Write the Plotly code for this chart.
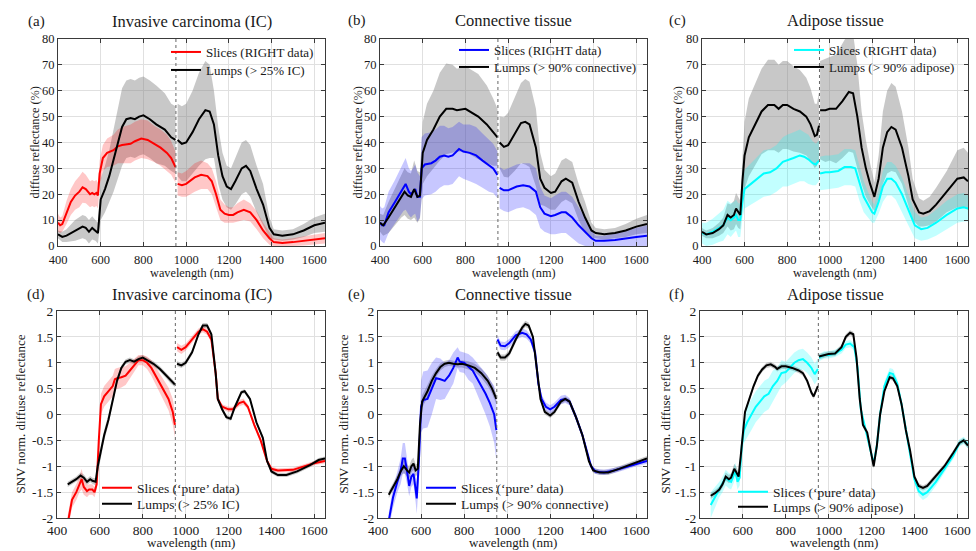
import plotly.graph_objects as go

# ---------------- tick labels ----------------
X_TICKS = [400, 600, 800, 1000, 1200, 1400, 1600]
Y_TOP_TICKS = [0, 10, 20, 30, 40, 50, 60, 70, 80]
Y_BOT_TICKS = [-2, -1.5, -1, -0.5, 0, 0.5, 1, 1.5, 2]
Y_BOT_TEXT = ["-2", "-1.5", "-1", "-0.5", "0", "0.5", "1", "1.5", "2"]

TITLES = ["Invasive carcinoma (IC)", "Connective tissue", "Adipose tissue",
          "Invasive carcinoma (IC)", "Connective tissue", "Adipose tissue"]
LABELS = ["(a)", "(b)", "(c)", "(d)", "(e)", "(f)"]
SLICE_NAMES = ["Slices (RIGHT data)"] * 3 + ["Slices (\u2018pure\u2019 data)"] * 3
LUMP_NAMES = ["Lumps (> 25% IC)", "Lumps (> 90% connective)", "Lumps (> 90% adipose)",
              "Lumps (> 25% IC)", "Lumps (> 90% connective)", "Lumps (> 90% adipose)"]

# ---------------- (a) IC, reflectance ----------------
A_SL_VIS_X = [400,410,420,440,460,480,500,515,530,550,560,570,580,587,595,610,630,660,680,700,740,760,790,820,850,880,910,930,950]
A_SL_VIS_Y = [9,8,8.5,13,17,19.5,21,22.7,22,20,20.5,20,20.5,19.5,28,34,36,37,38.5,39,39.5,40.5,41.5,41,39.5,38,36,34,30.5]
A_SL_VIS_SD = [3.5,3,3,4.5,5,5.5,6,6,5.5,5,5,5,5,5,5,5,5.5,6,6.5,7,7.5,7.5,7.5,7.5,7,7,7,6.5,6]
A_SL_NIR_X = [960,980,1000,1040,1070,1100,1120,1140,1160,1180,1200,1220,1240,1270,1300,1330,1360,1390,1410,1450,1500,1550,1600,1650]
A_SL_NIR_Y = [24,23.5,24,26.5,27.5,27,25,20,14,12.5,12,12,13,14,13,10,6,3,1.5,1.2,1.5,2,2.5,3]
A_SL_NIR_SD = [4.5,4.5,5,5.5,5.5,5,5,5,4,3.5,3,3,3.5,4,3.5,3.5,3,2.5,1.5,1.3,1.5,1.8,2,2]
A_LU_VIS_X = [400,420,440,480,515,530,545,560,575,587,600,620,640,660,680,700,720,740,760,780,800,830,860,900,930,950]
A_LU_VIS_Y = [4.5,3.5,4,6,7.5,7,5.5,7,6,5,18,22,27,33,40,46,49,49.5,49,50,50.5,49,47,45,42,41]
A_LU_VIS_SD = [1.5,2,2.5,4,4.5,4.5,4.5,4.5,4,4,8,9,10,12,14,15,15,15,15,15,15,15,15,14,13,13]
A_LU_NIR_X = [960,980,1000,1030,1060,1090,1110,1130,1150,1170,1190,1210,1230,1260,1280,1300,1330,1360,1390,1410,1450,1500,1550,1600,1650]
A_LU_NIR_Y = [41,39.5,40,44,49,52.5,52,47,35,27,23,22,25,30,31,29,22,16,7,4.5,4,4.5,6,8,9]
A_LU_NIR_SD = [14,14.5,15,16,18,19,18,13,11,9,8,8,9,10,10,10,9,8,4,2,2,2,2.5,3,3.5]

# ---------------- (b) connective, reflectance ----------------
B_SL_VIS_X = [400,410,420,440,470,490,510,520,535,545,555,565,575,587,595,610,640,660,680,700,720,740,770,790,820,850,880,910,930,950]
B_SL_VIS_Y = [9,8,8,13,17,20,23,24,21,20,21,22,19,19,30,31.5,32,33,34.5,35,34.5,35,37.5,36.5,36,35,33,31,30,27.5]
B_SL_VIS_SD = [6.5,6.5,7,8,8.5,9,9.5,10,9,9,9,9.5,9.5,8,12,12,12,12,12,11.5,11,11,10.5,10.5,11,11,10.5,10,9.5,9]
B_SL_NIR_X = [960,980,1000,1040,1070,1100,1130,1150,1170,1200,1220,1250,1270,1300,1330,1360,1390,1410,1450,1500,1550,1600,1650]
B_SL_NIR_Y = [22.5,21.5,21.5,23,23.5,23,21,15,12.5,11.5,12,13,13,11,8,5.5,3,2,2,2.3,3,3.5,4]
B_SL_NIR_SD = [8,8,8.5,8.5,8.5,9,9,8,7,7,7.5,8,8,8,7,5.5,3,2,2,2.5,3,3.5,4]
B_LU_VIS_X = [400,415,440,470,500,515,530,545,560,575,587,600,620,650,680,710,740,760,800,830,860,900,930,950]
B_LU_VIS_Y = [9,8,11,15,19,21,19.5,19,22,19,19.5,36,41,45,50,53,53,52.5,53,51.5,50,47,44,42]
B_LU_VIS_SD = [3.5,4,6,7,8,9,9,9,11,10,9,12,14,15,17,17.5,17,16,16.5,16.5,16.5,15,13,11]
B_LU_NIR_X = [960,980,1000,1030,1060,1080,1100,1130,1150,1170,1200,1220,1250,1270,1300,1330,1360,1390,1410,1450,1500,1550,1600,1650]
B_LU_NIR_Y = [40,38.3,39,43,47.5,48,47,38,26,22.5,20.5,21,25,26,24.5,17,11,6,5,4.5,5,6,7.5,8.5]
B_LU_NIR_SD = [10,11.5,12.5,14,15.5,16.5,16.5,15,10,7,6.5,7,8,8,8,7,6,3,2,2,2,2.5,3,3.5]

# ---------------- (c) adipose, reflectance ----------------
C_SL_VIS_X = [400,420,450,480,500,520,535,550,560,570,580,590,600,630,660,690,720,750,780,800,830,860,880,900,920,935,950]
C_SL_VIS_Y = [5,4.5,5.5,7,8,11,10,11,12,10,10,17,22,24,26,28,28.5,30,32.5,33,34,35,34.5,33.5,32,31.5,33]
C_SL_VIS_SD = [4,4.5,5,5.5,6,6.5,6.5,6,6,6.5,6.5,6.5,7.5,8,8.5,9,9,9,9.5,10,10,10,9.5,9.5,8.5,8,8]
C_SL_NIR_X = [955,980,1000,1040,1070,1100,1120,1140,1160,1180,1200,1210,1230,1250,1270,1290,1310,1340,1370,1400,1430,1460,1500,1550,1600,1630,1650]
C_SL_NIR_Y = [28,28.5,28.5,29,30.5,30.5,30,24,19,16,13,12.5,17,23,26,26,24.5,20,14,8,6.5,7,9,12,14.5,15,14.5]
C_SL_NIR_SD = [6.5,6.5,6.5,6.5,7,7,7,6.5,6,5,4,3.5,4.5,6,6.5,6.5,6.5,6.5,6,5,4.5,4.5,5,5.5,5.5,5.5,5]
C_LU_VIS_X = [400,420,450,480,500,520,535,550,560,570,580,590,600,620,650,680,710,740,760,780,800,830,860,890,910,930,940,950]
C_LU_VIS_Y = [5.5,4.5,5,6.5,8,12,11,12,14.5,13,12,25,35,42,47,52,54.5,54.5,53,54.5,54.5,53,52,50,47,42.5,43,46.5]
C_LU_VIS_SD = [1.5,1.5,2,2.5,3,4.5,5,5.5,6,6,5.5,9,13,15,15.5,16.5,17.5,17.5,17,17,17,16.5,16,15,14,12.5,12,13]
C_LU_NIR_X = [955,980,1000,1030,1060,1090,1110,1130,1150,1170,1190,1210,1230,1250,1270,1290,1310,1340,1370,1390,1420,1440,1470,1500,1550,1600,1630,1650]
C_LU_NIR_Y = [52.5,52.5,53,53,56,59.5,59,50,38,30,24,19,26,38,44,46,45,38,27,18,13,12.5,13.5,16,21,26,26.5,25]
C_LU_NIR_SD = [19,20,20,21,22,23,23,20,14,11,8,5.5,9,14,16,17,16.5,14,11,8,5.5,5,5.5,6.5,8,11,11.5,11]

# ---------------- (d) IC, SNV ----------------
D_SL_VIS_X = [450,470,490,505,515,525,540,550,565,575,585,595,605,620,640,660,670,680,700,720,740,760,780,800,820,840,860,880,900,920,940,950]
D_SL_VIS_Y = [-2.1,-1.65,-1.5,-1.35,-1.25,-1.4,-1.48,-1.45,-1.45,-1.5,-1.35,-0.5,0.2,0.35,0.45,0.55,0.68,0.7,0.72,0.75,0.85,0.95,1.05,1.05,1.0,0.9,0.75,0.6,0.45,0.3,0.05,-0.2]
D_SL_VIS_SD = [0.15,0.15,0.15,0.15,0.2,0.15,0.12,0.1,0.1,0.1,0.1,0.2,0.2,0.2,0.2,0.2,0.2,0.2,0.2,0.18,0.15,0.12,0.1,0.1,0.12,0.15,0.17,0.2,0.2,0.22,0.25,0.25]
D_SL_NIR_X = [960,980,1000,1030,1060,1080,1100,1120,1140,1150,1170,1200,1220,1250,1270,1290,1320,1350,1380,1400,1430,1500,1550,1600,1650]
D_SL_NIR_Y = [1.3,1.25,1.3,1.45,1.6,1.65,1.6,1.45,0.8,0.3,0.15,0.1,0.1,0.22,0.25,0.15,-0.2,-0.5,-0.9,-1.05,-1.08,-1.07,-1.0,-0.94,-0.9]
D_SL_NIR_SD = [0.08,0.08,0.07,0.07,0.06,0.06,0.06,0.06,0.06,0.06,0.05,0.05,0.05,0.06,0.06,0.05,0.05,0.05,0.05,0.04,0.04,0.04,0.04,0.04,0.04]
D_LU_VIS_X = [450,470,490,510,525,540,555,565,580,590,605,620,640,660,680,700,720,740,760,780,800,820,850,880,910,930,950]
D_LU_VIS_Y = [-1.35,-1.3,-1.25,-1.18,-1.22,-1.3,-1.25,-1.28,-1.3,-1.0,-0.7,-0.4,-0.1,0.3,0.65,0.9,1.02,1.05,1.02,1.07,1.1,1.05,0.98,0.88,0.75,0.65,0.58]
D_LU_VIS_SD = [0.05,0.05,0.05,0.06,0.06,0.06,0.06,0.06,0.07,0.1,0.1,0.1,0.1,0.08,0.06,0.05,0.05,0.05,0.05,0.05,0.05,0.05,0.05,0.05,0.05,0.05,0.05]
D_LU_NIR_X = [960,980,1000,1030,1060,1080,1100,1120,1140,1150,1170,1190,1210,1230,1260,1275,1300,1330,1360,1380,1400,1430,1470,1520,1580,1620,1650]
D_LU_NIR_Y = [0.98,0.95,1.0,1.2,1.55,1.72,1.72,1.55,0.8,0.3,0.1,-0.05,-0.08,0.15,0.43,0.45,0.3,-0.15,-0.45,-0.9,-1.1,-1.17,-1.17,-1.1,-0.98,-0.88,-0.85]
D_LU_NIR_SD = [0.05,0.05,0.05,0.05,0.05,0.05,0.05,0.05,0.05,0.05,0.04,0.04,0.04,0.04,0.04,0.04,0.04,0.04,0.04,0.04,0.04,0.04,0.04,0.04,0.04,0.04,0.04]

# ---------------- (e) connective, SNV ----------------
E_SL_VIS_X = [450,470,490,505,515,525,535,545,555,565,575,580,590,600,610,630,650,670,690,710,730,750,770,780,800,820,840,860,880,900,920,940,950]
E_SL_VIS_Y = [-2.05,-1.6,-1.3,-1.1,-0.85,-0.85,-1.1,-1.38,-1.2,-1.15,-1.45,-1.62,-0.9,0.15,0.28,0.3,0.5,0.7,0.68,0.65,0.75,0.9,1.1,1.02,1.0,0.92,0.85,0.7,0.55,0.4,0.22,0.0,-0.3]
E_SL_VIS_SD = [0.15,0.2,0.2,0.25,0.3,0.3,0.25,0.2,0.2,0.2,0.25,0.3,0.4,0.5,0.55,0.55,0.5,0.4,0.4,0.35,0.3,0.3,0.2,0.2,0.2,0.25,0.25,0.3,0.35,0.4,0.45,0.55,0.6]
E_SL_NIR_X = [955,970,990,1010,1040,1070,1090,1110,1130,1145,1160,1180,1200,1220,1250,1270,1290,1320,1350,1370,1390,1410,1450,1500,1550,1600,1650]
E_SL_NIR_Y = [1.45,1.33,1.32,1.38,1.53,1.58,1.55,1.45,1.2,0.6,0.3,0.15,0.1,0.15,0.28,0.3,0.25,-0.05,-0.4,-0.7,-1.0,-1.1,-1.12,-1.08,-1.02,-0.95,-0.9]
E_SL_NIR_SD = [0.08,0.08,0.08,0.08,0.08,0.08,0.08,0.08,0.08,0.08,0.08,0.08,0.08,0.08,0.08,0.08,0.07,0.07,0.06,0.06,0.05,0.05,0.05,0.05,0.05,0.05,0.05]
E_LU_VIS_X = [450,470,490,505,520,535,545,555,565,575,585,595,605,630,650,670,690,710,730,750,770,790,820,850,880,910,930,950]
E_LU_VIS_Y = [-1.55,-1.4,-1.25,-1.1,-1.0,-1.08,-1.12,-1.0,-0.95,-1.08,-1.05,-0.2,0.25,0.45,0.65,0.8,0.92,0.98,1.0,0.98,0.97,0.98,0.95,0.9,0.8,0.65,0.5,0.3]
E_LU_VIS_SD = [0.07,0.07,0.08,0.1,0.12,0.12,0.12,0.12,0.12,0.12,0.1,0.12,0.12,0.12,0.1,0.08,0.07,0.06,0.06,0.06,0.06,0.07,0.08,0.08,0.09,0.1,0.1,0.1]
E_LU_NIR_X = [955,970,990,1010,1040,1070,1085,1100,1120,1140,1155,1175,1200,1220,1250,1270,1290,1320,1350,1380,1400,1430,1470,1520,1580,1650]
E_LU_NIR_Y = [1.2,1.1,1.1,1.18,1.45,1.68,1.75,1.72,1.5,0.8,0.3,0.05,-0.02,0.05,0.25,0.3,0.25,-0.05,-0.4,-0.9,-1.08,-1.12,-1.12,-1.05,-0.96,-0.85]
E_LU_NIR_SD = [0.06,0.06,0.06,0.06,0.06,0.06,0.06,0.06,0.06,0.06,0.05,0.05,0.05,0.05,0.05,0.05,0.05,0.05,0.05,0.05,0.05,0.05,0.05,0.05,0.05,0.05]

# ---------------- (f) adipose, SNV ----------------
F_SL_VIS_X = [450,470,490,505,520,535,545,555,565,575,585,595,605,620,640,660,680,700,720,740,760,780,800,820,840,860,880,900,920,935,950]
F_SL_VIS_Y = [-1.75,-1.6,-1.45,-1.35,-1.22,-1.28,-1.3,-1.2,-1.08,-1.3,-1.22,-0.6,-0.3,-0.15,0.0,0.15,0.25,0.35,0.4,0.55,0.65,0.8,0.82,0.9,1.0,1.05,1.07,1.0,0.9,0.78,0.88]
F_SL_VIS_SD = [0.25,0.2,0.15,0.15,0.15,0.15,0.15,0.15,0.15,0.15,0.15,0.2,0.25,0.3,0.3,0.3,0.3,0.3,0.3,0.3,0.25,0.25,0.2,0.2,0.2,0.2,0.2,0.2,0.2,0.2,0.2]
F_SL_NIR_X = [955,980,1000,1030,1060,1080,1100,1120,1135,1150,1170,1190,1210,1225,1240,1260,1285,1300,1320,1340,1360,1380,1400,1420,1440,1460,1500,1540,1580,1610,1630,1650]
F_SL_NIR_Y = [1.1,1.15,1.15,1.18,1.25,1.35,1.37,1.3,0.9,0.1,-0.25,-0.6,-0.95,-0.6,0.0,0.55,0.8,0.78,0.6,0.2,-0.3,-0.8,-1.25,-1.48,-1.55,-1.5,-1.3,-1.05,-0.8,-0.55,-0.5,-0.58]
F_SL_NIR_SD = [0.07,0.07,0.07,0.07,0.07,0.07,0.07,0.07,0.07,0.07,0.07,0.07,0.07,0.07,0.08,0.09,0.1,0.1,0.09,0.08,0.07,0.07,0.08,0.09,0.1,0.1,0.08,0.07,0.07,0.07,0.07,0.07]
F_LU_VIS_X = [450,470,490,505,520,535,545,560,570,580,590,600,610,630,650,670,690,710,730,750,760,780,800,830,860,880,900,920,930,940,950]
F_LU_VIS_Y = [-1.57,-1.52,-1.45,-1.35,-1.2,-1.25,-1.22,-1.05,-1.12,-1.2,-0.8,-0.3,0.05,0.3,0.55,0.75,0.87,0.95,0.97,0.92,0.88,0.93,0.93,0.9,0.85,0.8,0.65,0.42,0.35,0.45,0.55]
F_LU_VIS_SD = [0.06,0.06,0.06,0.07,0.08,0.08,0.08,0.1,0.1,0.08,0.07,0.06,0.05,0.05,0.05,0.05,0.05,0.05,0.05,0.05,0.05,0.05,0.05,0.05,0.05,0.05,0.05,0.05,0.05,0.05,0.05]
F_LU_NIR_X = [955,980,1000,1030,1060,1080,1100,1115,1130,1145,1160,1180,1195,1210,1225,1240,1260,1285,1300,1320,1340,1360,1380,1400,1420,1440,1460,1500,1540,1580,1610,1630,1650]
F_LU_NIR_Y = [1.12,1.15,1.17,1.18,1.3,1.5,1.58,1.55,1.1,0.3,-0.2,-0.35,-0.7,-1.0,-0.6,0.0,0.45,0.72,0.7,0.55,0.2,-0.3,-0.7,-1.2,-1.38,-1.42,-1.38,-1.2,-1.0,-0.75,-0.55,-0.5,-0.6]
F_LU_NIR_SD = [0.05,0.05,0.05,0.05,0.05,0.05,0.05,0.05,0.05,0.05,0.05,0.05,0.05,0.05,0.05,0.05,0.05,0.05,0.05,0.05,0.05,0.05,0.05,0.05,0.05,0.05,0.05,0.05,0.05,0.05,0.05,0.05,0.05]

BREAK_NM = 952

SLICE_COLORS = ["#ff0000", "#0000ff", "#00ffff"] * 2
SLICE_FILLS = ["rgba(255,0,0,0.22)", "rgba(0,0,255,0.22)", "rgba(0,255,255,0.24)"] * 2
LUMP_COLOR = "#000000"
LUMP_FILL = "rgba(128,128,128,0.43)"

PANELS = [
    (A_SL_VIS_X, A_SL_VIS_Y, A_SL_VIS_SD, A_SL_NIR_X, A_SL_NIR_Y, A_SL_NIR_SD,
     A_LU_VIS_X, A_LU_VIS_Y, A_LU_VIS_SD, A_LU_NIR_X, A_LU_NIR_Y, A_LU_NIR_SD),
    (B_SL_VIS_X, B_SL_VIS_Y, B_SL_VIS_SD, B_SL_NIR_X, B_SL_NIR_Y, B_SL_NIR_SD,
     B_LU_VIS_X, B_LU_VIS_Y, B_LU_VIS_SD, B_LU_NIR_X, B_LU_NIR_Y, B_LU_NIR_SD),
    (C_SL_VIS_X, C_SL_VIS_Y, C_SL_VIS_SD, C_SL_NIR_X, C_SL_NIR_Y, C_SL_NIR_SD,
     C_LU_VIS_X, C_LU_VIS_Y, C_LU_VIS_SD, C_LU_NIR_X, C_LU_NIR_Y, C_LU_NIR_SD),
    (D_SL_VIS_X, D_SL_VIS_Y, D_SL_VIS_SD, D_SL_NIR_X, D_SL_NIR_Y, D_SL_NIR_SD,
     D_LU_VIS_X, D_LU_VIS_Y, D_LU_VIS_SD, D_LU_NIR_X, D_LU_NIR_Y, D_LU_NIR_SD),
    (E_SL_VIS_X, E_SL_VIS_Y, E_SL_VIS_SD, E_SL_NIR_X, E_SL_NIR_Y, E_SL_NIR_SD,
     E_LU_VIS_X, E_LU_VIS_Y, E_LU_VIS_SD, E_LU_NIR_X, E_LU_NIR_Y, E_LU_NIR_SD),
    (F_SL_VIS_X, F_SL_VIS_Y, F_SL_VIS_SD, F_SL_NIR_X, F_SL_NIR_Y, F_SL_NIR_SD,
     F_LU_VIS_X, F_LU_VIS_Y, F_LU_VIS_SD, F_LU_NIR_X, F_LU_NIR_Y, F_LU_NIR_SD),
]

W, H = 976, 551
FONT = "Liberation Serif"
TXT = "#1a1a1a"

# pixel layout (left, right, top, bottom) of each plot area
BOXES = [(58, 325, 39, 246), (380, 647, 39, 246), (702, 968, 39, 246),
         (57, 325, 311, 518), (378, 647, 311, 518), (700, 968, 311, 518)]
# legend text start x, centre y of first entry, centre y of second entry
LEG_POS = [(207, 52, 70), (495, 50, 67), (830, 50, 67),
           (138, 488, 504), (462, 488, 504), (774, 492, 507)]
TITLE_POS = [(192, 22), (513, 21), (835, 21), (192, 294), (513, 294), (835, 294)]
LABEL_POS = [(36, 22), (357, 21), (677, 21), (36, 294), (356, 294), (676, 294)]
YT_X = [35, 358, 678, 20, 343, 665]


def px(x):
    return x / W


def py(y):
    return 1 - y / H


fig = go.Figure()


def band(xs, ys, sd, fill, xa, ya):
    assert len(xs) == len(ys) == len(sd), (len(xs), len(ys), len(sd))
    up = [m + s for m, s in zip(ys, sd)]
    lo = [m - s for m, s in zip(ys, sd)]
    fig.add_trace(go.Scatter(x=list(xs) + list(xs)[::-1], y=up + lo[::-1], fill="toself",
                             fillcolor=fill, line=dict(width=0), mode="lines",
                             hoverinfo="skip", showlegend=False, xaxis=xa, yaxis=ya))


def line(xs, ys, color, name, show, leg, xa, ya):
    fig.add_trace(go.Scatter(x=xs, y=ys, mode="lines", line=dict(color=color, width=2),
                             name=name, showlegend=show, legend=leg, xaxis=xa, yaxis=ya))


def note(x, y, text, size, angle=0):
    fig.add_annotation(x=px(x), y=py(y), xref="paper", yref="paper", text=text,
                       xanchor="center", yanchor="middle", textangle=angle,
                       showarrow=False, font=dict(family=FONT, size=size, color=TXT))


for i, p in enumerate(PANELS):
    (svx, svy, svs, snx, sny, sns, lvx, lvy, lvs, lnx, lny, lns) = p
    k = "" if i == 0 else str(i + 1)
    xa, ya = "x" + k, "y" + k
    leg_s = "legend" if i == 0 else "legend" + str(2 * i + 1)
    leg_l = "legend" + str(2 * i + 2)
    band(lvx, lvy, lvs, LUMP_FILL, xa, ya)
    band(lnx, lny, lns, LUMP_FILL, xa, ya)
    band(svx, svy, svs, SLICE_FILLS[i], xa, ya)
    band(snx, sny, sns, SLICE_FILLS[i], xa, ya)
    line(svx, svy, SLICE_COLORS[i], SLICE_NAMES[i], True, leg_s, xa, ya)
    line(snx, sny, SLICE_COLORS[i], SLICE_NAMES[i], False, leg_s, xa, ya)
    line(lvx, lvy, LUMP_COLOR, LUMP_NAMES[i], True, leg_l, xa, ya)
    line(lnx, lny, LUMP_COLOR, LUMP_NAMES[i], False, leg_l, xa, ya)

    top = i < 3
    tick_size = 12.5 if top else 13.5
    title_size = 12.3 if top else 13
    leg_size = 13 if top else 13.5

    l, r, t, b = BOXES[i]
    axcommon = dict(showline=True, mirror="ticks", linecolor="#3a3a3a", linewidth=1,
                    ticks="inside", ticklen=4, tickcolor="#3a3a3a", showgrid=True,
                    gridcolor="#e0e0e0", gridwidth=1, zeroline=False, automargin=False,
                    tickfont=dict(family=FONT, size=tick_size, color=TXT))
    fig.update_layout(**{
        "xaxis" + k: dict(domain=[px(l), px(r)], anchor=ya, range=[400, 1650],
                          tickvals=X_TICKS, ticklabelstandoff=2 if top else 0, **axcommon),
    })
    if top:
        fig.update_layout(**{"yaxis" + k: dict(domain=[py(b), py(t)], anchor=xa, range=[0, 80],
                                                tickvals=Y_TOP_TICKS, **axcommon)})
    else:
        fig.update_layout(**{"yaxis" + k: dict(domain=[py(b), py(t)], anchor=xa, range=[-2, 2],
                                                tickvals=Y_BOT_TICKS, ticktext=Y_BOT_TEXT, **axcommon)})

    lx, ly1, ly2 = LEG_POS[i]
    for leg, ly in ((leg_s, ly1), (leg_l, ly2)):
        fig.update_layout(**{leg: dict(x=px(lx - 41), y=py(ly), xanchor="left", yanchor="middle",
                                       bgcolor="rgba(0,0,0,0)", borderwidth=0, itemwidth=30,
                                       tracegroupgap=0,
                                       font=dict(family=FONT, size=leg_size, color=TXT))})

    fig.add_shape(type="line", x0=BREAK_NM, x1=BREAK_NM, y0=0, y1=1, xref=xa,
                  yref=ya + " domain", line=dict(color="#666666", width=1, dash="dot"))

    tx, ty = TITLE_POS[i]
    note(tx, ty, TITLES[i], 16.5)
    lbx, lby = LABEL_POS[i]
    note(lbx, lby, LABELS[i], 15)
    note((l + r) / 2, b + (27 if top else 24), "wavelength (nm)", title_size)
    yt = "diffuse reflectance (%)" if top else "SNV norm. diffuse reflectance"
    note(YT_X[i], (t + b) / 2, yt, title_size, -90)

fig.update_layout(template="none", width=W, height=H,
                  margin=dict(l=0, r=0, t=0, b=0, autoexpand=False),
                  paper_bgcolor="white", plot_bgcolor="white",
                  font=dict(family=FONT, color=TXT))

fig.write_html("out.html", config={"displayModeBar": False},
               post_script="document.body.style.margin='0';document.body.style.padding='0';")
